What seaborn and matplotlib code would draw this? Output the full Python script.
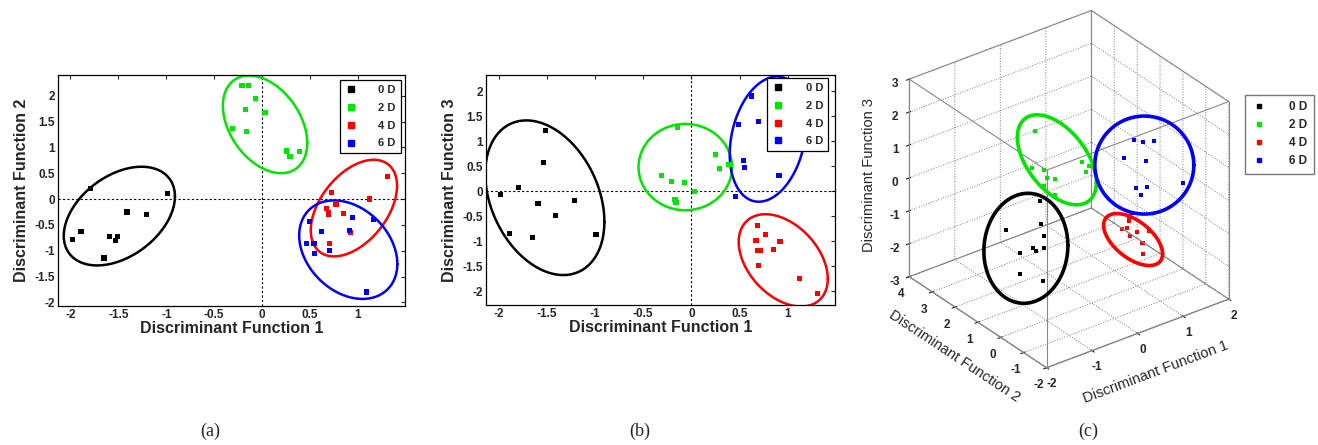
import numpy as np
import pandas as pd
import seaborn as sns
import matplotlib.pyplot as plt
from matplotlib.lines import Line2D
from matplotlib.transforms import IdentityTransform
from mpl_toolkits.mplot3d import proj3d

sns.set_style("white")
plt.rcParams['font.family'] = ['Liberation Sans', 'DejaVu Sans']
plt.rcParams['grid.linestyle'] = ':'
plt.rcParams['axes.unicode_minus'] = False

# group labels and colours
groups = ["0 D", "2 D", "4 D", "6 D"]
colors = ["#000000", "#00e600", "#ff0000", "#0000ff"]

# discriminant scores
df1_0 = [-1.98, -1.89, -1.79, -1.65, -1.59, -1.53, -1.51, -1.41, -1.21, -0.99]
df2_0 = [-0.79, -0.63, 0.21, -1.14, -0.72, -0.81, -0.72, -0.25, -0.30, 0.10]
df3_0 = [-0.07, -0.85, 0.07, -0.93, -0.25, 0.57, 1.22, -0.49, -0.19, -0.87]

df1_2 = [-0.31, -0.21, -0.14, -0.17, -0.16, -0.07, 0.03, 0.25, 0.29, 0.39]
df2_2 = [1.36, 2.20, 2.20, 1.74, 1.30, 1.94, 1.68, 0.93, 0.83, 0.92]
df3_2 = [0.32, 0.20, 1.27, -0.17, -0.22, 0.17, -0.01, 0.73, 0.45, 0.53]

df1_4 = [0.72, 0.67, 0.69, 0.69, 0.77, 0.85, 0.92, 0.70, 1.12, 1.31]
df2_4 = [0.13, -0.19, -0.26, -0.30, -0.10, -0.28, -0.65, -0.86, 0.00, 0.43]
df3_4 = [-1.19, -0.99, -0.68, -1.19, -0.87, -1.17, -1.00, -1.49, -1.75, -2.05]

df1_6 = [0.49, 0.46, 0.54, 0.55, 0.62, 0.70, 0.94, 0.91, 1.16, 1.09]
df2_6 = [-0.43, -0.86, -0.86, -1.06, -0.63, -0.99, -0.35, -0.61, -0.39, -1.80]
df3_6 = [1.34, -0.10, 0.62, 0.47, 1.91, 1.40, 1.55, 0.32, 1.50, 0.92]

# group ellipses: centre x, centre y, x half-width, y half-height, tilt
ell_a = [(-1.49, -0.33, 0.58, 0.955, 0.40), (0.03, 1.445, 0.44, 0.945, -0.38),
         (0.957, -0.175, 0.45, 0.935, 0.46), (0.898, -0.98, 0.512, 0.953, -0.29)]
ell_b = [(-1.52, -0.13, 0.618, 1.55, -0.31), (-0.063, 0.485, 0.485, 0.865, 0.0),
         (0.953, -1.385, 0.462, 0.925, -0.40), (0.794, 1.045, 0.396, 1.255, 0.24)]
# (c): centre in DF1/DF2/DF3, then half-width, half-height (points on screen), tilt
ell_c_center = [(-1.70, -0.50, -0.22), (-0.01, 1.51, 0.66), (0.80, -0.21, -1.39),
                (0.75, -0.80, 1.17)]
ell_c_shape = [(42, 55, 0.05), (39.5, 45, -0.5), (29.5, 26, -0.55), (49.5, 49, 0.0)]

captions = ["(a)", "(b)", "(c)"]

frames = []
for g, a, b, c in zip(groups, [df1_0, df1_2, df1_4, df1_6], [df2_0, df2_2, df2_4, df2_6],
                      [df3_0, df3_2, df3_4, df3_6]):
    frames.append(pd.DataFrame({"group": g, "DF1": a, "DF2": b, "DF3": c}))
data = pd.concat(frames, ignore_index=True)
palette = dict(zip(groups, colors))

t = np.linspace(0, 2 * np.pi, 200)


def ellipse_xy(cx, cy, rx, ry, rho):
    x = cx + rx * np.cos(t)
    y = cy + ry * (rho * np.cos(t) + np.sqrt(1 - rho ** 2) * np.sin(t))
    return x, y


def legend_handles(ms):
    return [Line2D([], [], ls='none', marker='s', ms=ms, mfc=c, mec=c) for c in colors]


W, H = 1318, 445
fig = plt.figure(figsize=(W / 100, H / 100), dpi=100)

tick_font = dict(fontsize=8.5, fontweight='bold')
label_font = dict(fontsize=11.5, fontweight='bold')
yticks = [-2, -1.5, -1, -0.5, 0, 0.5, 1, 1.5, 2]


def panel_2d(pos, ycol, ylabel, ylim, ells, legend_anchor):
    ax = fig.add_axes(pos)
    sns.scatterplot(data=data, x="DF1", y=ycol, hue="group", palette=palette, marker='s',
                    s=14, linewidth=0, legend=False, ax=ax, zorder=3)
    for g, e in zip(groups, ells):
        ex, ey = ellipse_xy(*e)
        ax.plot(ex, ey, color=palette[g], lw=1.8, zorder=2)
    ax.axhline(0, color='k', ls=(0, (2, 2)), lw=0.8, zorder=1)
    ax.axvline(0, color='k', ls=(0, (2, 2)), lw=0.8, zorder=1)
    ax.set_xlim(-2.13, 1.49)
    ax.set_ylim(*ylim)
    ax.set_xticks([-2, -1.5, -1, -0.5, 0, 0.5, 1])
    ax.set_xticklabels(['-2', '-1.5', '-1', '-0.5', '0', '0.5', '1'], **tick_font)
    ax.set_yticks(yticks)
    ax.set_yticklabels([f"{v:g}" for v in yticks], **tick_font)
    ax.set_xlabel("Discriminant Function 1", labelpad=0, **label_font)
    ax.set_ylabel(ylabel, labelpad=4, **label_font)
    ax.tick_params(direction='in', top=True, right=True, length=3, width=0.8, pad=2)
    for s in ax.spines.values():
        s.set_color('k')
        s.set_linewidth(0.9)
    leg = ax.legend(legend_handles(4), groups, loc='upper right', bbox_to_anchor=legend_anchor,
                    fancybox=False, edgecolor='k', framealpha=1, borderaxespad=0,
                    prop=dict(size=8, weight='bold'), handletextpad=2.0, labelspacing=0.7,
                    handlelength=1.0, borderpad=0.45)
    leg.get_frame().set_linewidth(0.9)
    leg.set_zorder(10)
    return ax


ax1 = panel_2d([58 / W, 1 - 306 / H, 347 / W, 231 / H], "DF2", "Discriminant Function 2",
               (-2.07, 2.4), ell_a, (0.988, 0.978))
ax2 = panel_2d([486 / W, 1 - 305 / H, 349 / W, 230 / H], "DF3", "Discriminant Function 3",
               (-2.28, 2.33), ell_b, (0.98, 0.987))

# 3D panel
ax3 = fig.add_axes([0.657, 0.063, 0.30, 1.0], projection='3d')
ax3.set_proj_type('ortho')
ax3.view_init(elev=30, azim=-127)
ax3.set_box_aspect((1, 1, 1), zoom=0.97)
xl, yl, zl = (-2, 2), (-2, 4), (-3, 3)
ax3.set_xlim(*xl)
ax3.set_ylim(*yl)
ax3.set_zlim(*zl)
for g in groups:
    sub = data[data.group == g]
    ax3.scatter(sub.DF1, sub.DF2, sub.DF3, marker='s', s=12, c=palette[g], linewidths=0,
                depthshade=False)
for axis in (ax3.xaxis, ax3.yaxis, ax3.zaxis):
    axis.set_pane_color((1, 1, 1, 0))
    axis._axinfo['grid'].update(color='#7a7a7a', linestyle=':', linewidth=0.7)
    axis.line.set_color('#888888')
    axis.line.set_linewidth(0.8)
# full box edges, as in the original
for x0 in xl:
    for y0 in yl:
        ax3.plot([x0, x0], [y0, y0], list(zl), color='#888888', lw=0.8)
for x0 in xl:
    for z0 in zl:
        ax3.plot([x0, x0], list(yl), [z0, z0], color='#888888', lw=0.8)
for y0 in yl:
    for z0 in zl:
        ax3.plot(list(xl), [y0, y0], [z0, z0], color='#888888', lw=0.8)
ax3.set_xticks([-2, -1, 0, 1, 2])
ax3.set_yticks([-2, -1, 0, 1, 2, 3, 4])
ax3.set_zticks([-3, -2, -1, 0, 1, 2, 3])
for lab in ax3.get_xticklabels() + ax3.get_yticklabels() + ax3.get_zticklabels():
    lab.set_fontsize(8.5)
    lab.set_fontweight('bold')
ax3.tick_params(axis='x', pad=-2.5)
ax3.tick_params(axis='y', pad=-1.5)
ax3.tick_params(axis='z', pad=-1.5)
ax3.set_xlabel("Discriminant Function 1", fontsize=10.5, labelpad=-1)
ax3.set_ylabel("Discriminant Function 2", fontsize=10.5, labelpad=-2)
ax3.set_zlabel("Discriminant Function 3", fontsize=10.5, labelpad=-2.5)
ax3.grid(True)

leg3 = fig.legend(legend_handles(3), groups, loc='upper left',
                  bbox_to_anchor=(1245 / W, 1 - 95 / H), bbox_transform=fig.transFigure,
                  fancybox=False, edgecolor='#777777', framealpha=1, borderaxespad=0,
                  prop=dict(size=8.5, weight='bold'), handletextpad=2.0, labelspacing=0.5,
                  handlelength=1.2, borderpad=0.55)

# ellipses in (c) are drawn flat on the screen round a projected centre
fig.canvas.draw()
M = ax3.get_proj()
for g, cen, shp in zip(groups, ell_c_center, ell_c_shape):
    px, py, _ = proj3d.proj_transform(*[np.array([v]) for v in cen], M)
    cx, cy = ax3.transData.transform([[px[0], py[0]]])[0]
    ex, ey = ellipse_xy(cx, cy, *shp)
    fig.add_artist(Line2D(ex, ey, color=palette[g], lw=2.6, transform=IdentityTransform()))

for txt, xc in zip(captions, [210, 640, 1088]):
    fig.text(xc / W, 1 - 431 / H, txt, ha='center', va='center', fontsize=13,
             family='Liberation Serif')

fig.savefig("out.png", dpi=100)
